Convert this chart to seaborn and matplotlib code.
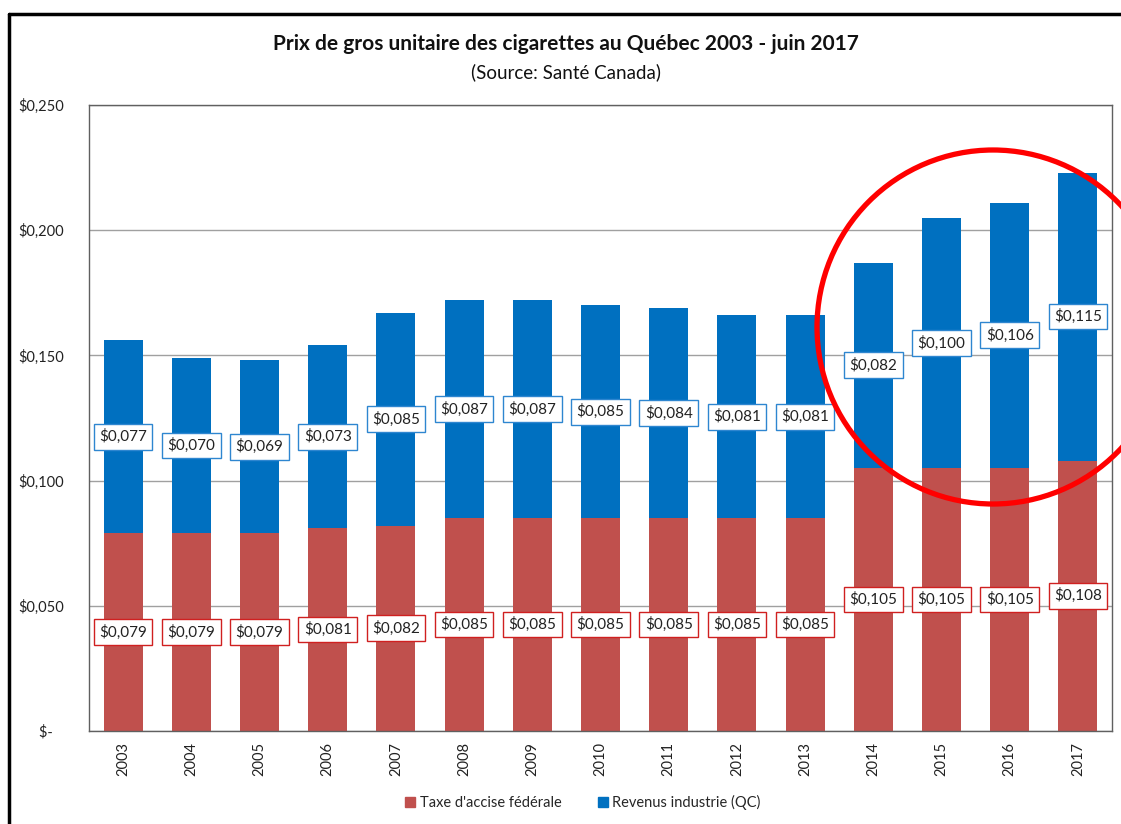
import matplotlib
matplotlib.use("Agg")
import matplotlib.pyplot as plt
from matplotlib.patches import Ellipse
from matplotlib.lines import Line2D
import numpy as np
import pandas as pd
import seaborn as sns

years = ["2003", "2004", "2005", "2006", "2007", "2008", "2009", "2010",
         "2011", "2012", "2013", "2014", "2015", "2016", "2017"]
taxe = [0.079, 0.079, 0.079, 0.081, 0.082, 0.085, 0.085, 0.085,
        0.085, 0.085, 0.085, 0.105, 0.105, 0.105, 0.108]
revenus = [0.077, 0.070, 0.069, 0.073, 0.085, 0.087, 0.087, 0.085,
           0.084, 0.081, 0.081, 0.082, 0.100, 0.106, 0.115]
yticks = [0.0, 0.05, 0.10, 0.15, 0.20, 0.25]
ytick_labels = ["$-   ", "$0,050", "$0,100", "$0,150", "$0,200", "$0,250"]

red = "#C0504D"
blue = "#0070C0"

df = pd.DataFrame({"annee": years, "taxe": taxe, "revenus": revenus})
df["total"] = df["taxe"] + df["revenus"]

sns.set_style("white")
plt.rcParams["font.family"] = ["Lato", "DejaVu Sans"]

fig = plt.figure(figsize=(11.21, 8.24), dpi=100)
ax = fig.add_axes([0.0794, 0.1129, 0.9126, 0.7597])

# stacked bars: total in blue, tax drawn over it in red
sns.barplot(data=df, x="annee", y="total", color=blue, width=0.57,
            saturation=1, ax=ax, linewidth=0, edgecolor="none")
sns.barplot(data=df, x="annee", y="taxe", color=red, width=0.57,
            saturation=1, ax=ax, linewidth=0, edgecolor="none")

ax.set_xlim(-0.5, len(years) - 0.5)
ax.set_ylim(0, 0.25)
ax.set_yticks(yticks)
ax.set_yticklabels(ytick_labels, fontsize=10.5, color="#222222")
ax.tick_params(axis="y", length=0, pad=18)
ax.tick_params(axis="x", length=0, pad=8)
plt.setp(ax.get_xticklabels(), rotation=90, fontsize=10.5, color="#222222")
ax.set_xlabel("")
ax.set_ylabel("")
ax.yaxis.grid(True, color="#A0A0A0", linewidth=1)
ax.set_axisbelow(True)
for s in ax.spines.values():
    s.set_color("#606060")
    s.set_linewidth(1)
    s.set_visible(True)

# value labels
for i in range(len(years)):
    ax.text(i, taxe[i] / 2, "$" + f"{taxe[i]:.3f}".replace(".", ","),
            ha="center", va="center", fontsize=11, color="#222222",
            bbox=dict(boxstyle="square,pad=0.35", fc="white", ec="#D02020", lw=1))
    ax.text(i, taxe[i] + revenus[i] / 2, "$" + f"{revenus[i]:.3f}".replace(".", ","),
            ha="center", va="center", fontsize=11, color="#222222",
            bbox=dict(boxstyle="square,pad=0.35", fc="white", ec="#2E86D0", lw=1))

handles = [plt.Rectangle((0, 0), 1, 1, color=red),
           plt.Rectangle((0, 0), 1, 1, color=blue)]
fig.legend(handles, ["Taxe d'accise fédérale", "Revenus industrie (QC)"],
           loc="center", bbox_to_anchor=(0.52, 0.026), ncol=2, frameon=False,
           fontsize=10.5, handlelength=0.7, handleheight=0.7, handletextpad=0.3,
           columnspacing=2.5)

fig.text(0.505, 1 - 44 / 824, "Prix de gros unitaire des cigarettes au Québec 2003 - juin 2017",
         ha="center", va="center", fontsize=15, fontweight="bold", color="#111111")
fig.text(0.505, 1 - 72 / 824, "(Source: Santé Canada)",
         ha="center", va="center", fontsize=13.5, color="#111111")

# outer frame
fig.add_artist(Line2D([9 / 1121, 1.0], [1 - 14 / 824, 1 - 14 / 824],
                      transform=fig.transFigure, color="black", lw=2.5))
fig.add_artist(Line2D([9 / 1121, 9 / 1121], [0, 1 - 14 / 824],
                      transform=fig.transFigure, color="black", lw=2.5))

# red circle
fig.add_artist(Ellipse((993 / 1121, 1 - 327 / 824), 352 / 1121, 354 / 824,
                       transform=fig.transFigure, fill=False, ec="#FF0000", lw=3.8))

fig.savefig("out.png", dpi=100)
